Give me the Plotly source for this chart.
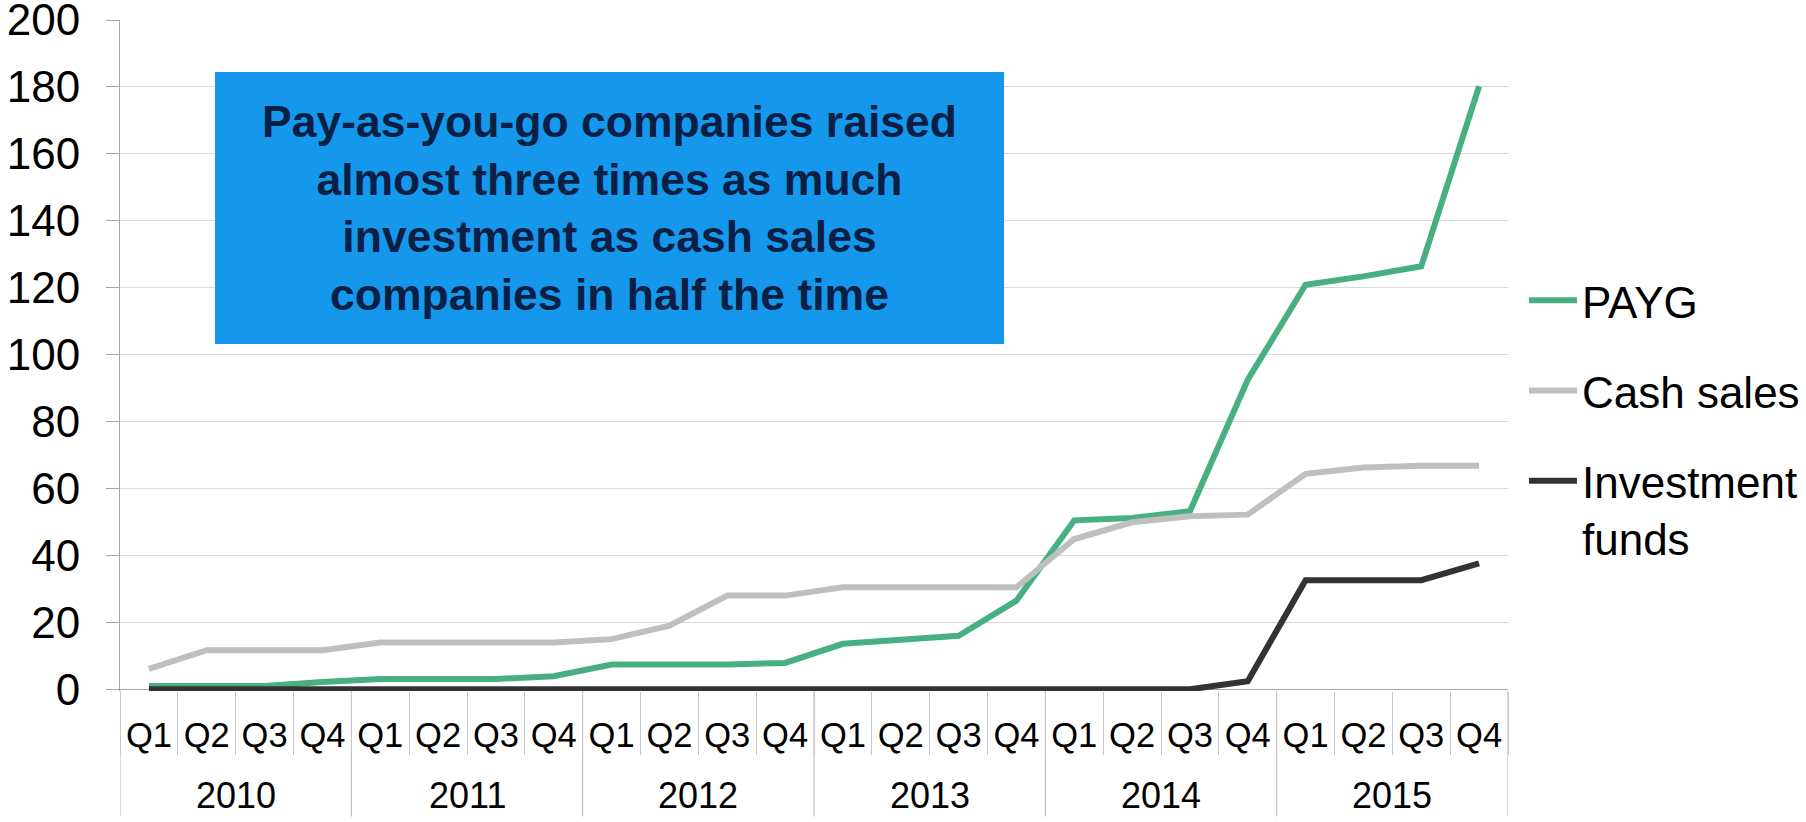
import plotly.graph_objects as go

# Quarterly cumulative investment raised (USD millions)
YEARS = ["2010", "2011", "2012", "2013", "2014", "2015"]
QUARTERS = ["Q1", "Q2", "Q3", "Q4"]

PAYG = [1.0, 1.0, 1.0, 2.2, 3.1, 3.1, 3.1, 3.9,
        7.4, 7.4, 7.4, 7.9, 13.6, 14.8, 16.0, 26.5,
        50.5, 51.2, 53.2, 92.5, 120.9, 123.4, 126.4, 180.2]
CASH_SALES = [6.1, 11.7, 11.7, 11.7, 14.0, 14.0, 14.0, 14.0,
              15.0, 19.0, 28.0, 28.0, 30.5, 30.5, 30.5, 30.5,
              44.9, 49.9, 51.7, 52.2, 64.4, 66.3, 66.8, 66.8]
INVESTMENT_FUNDS = [0, 0, 0, 0, 0, 0, 0, 0,
                    0, 0, 0, 0, 0, 0, 0, 0,
                    0, 0, 0, 2.4, 32.6, 32.6, 32.6, 37.6]

Y_TICKS = [0, 20, 40, 60, 80, 100, 120, 140, 160, 180, 200]

SERIES = [
    ("PAYG", PAYG, "#48B080"),
    ("Cash sales", CASH_SALES, "#BFBFBF"),
    ("Investment<br>funds", INVESTMENT_FUNDS, "#333333"),
]

# one category per quarter, labelled by quarter; years are grouped underneath
x_keys = [f"{y} {q}" for y in YEARS for q in QUARTERS]
x_text = [q for _ in YEARS for q in QUARTERS]
n_q = len(QUARTERS)

FONT = "Arial, Liberation Sans, sans-serif"
AXIS_GREY = "#A6A6A6"
DIVIDER_GREY = "#B4B4B4"

fig = go.Figure()
for i, (name, values, color) in enumerate(SERIES):
    fig.add_trace(go.Scatter(
        x=x_keys, y=values, name=name, mode="lines",
        line=dict(color=color, width=6),
        legendgroup=f"g{i}",
    ))

# year labels centred under their four quarters
for i, year in enumerate(YEARS):
    fig.add_annotation(
        text=year, xref="x", yref="paper",
        x=i * n_q + (n_q - 1) / 2, y=-0.1559,
        xanchor="center", yanchor="middle", showarrow=False,
        font=dict(family=FONT, size=36, color="black"),
    )

# year dividers running through both label rows
for i in range(len(YEARS) + 1):
    fig.add_shape(
        type="line", xref="x", yref="paper",
        x0=i * n_q - 0.5, x1=i * n_q - 0.5, y0=0, y1=-0.187,
        line=dict(color=DIVIDER_GREY, width=1), layer="below",
    )

fig.add_annotation(
    text=("Pay-as-you-go companies raised<br>almost three times as much<br>"
          "investment as cash sales<br>companies in half the time"),
    xref="paper", yref="paper", x=0.3528, y=0.7203,
    xanchor="center", yanchor="middle",
    width=789, height=272, borderpad=0, borderwidth=0,
    bgcolor="#1597EC", showarrow=False, align="center",
    font=dict(family=FONT, size=44.5, color="#0B1F45", weight="bold"),
)

fig.update_layout(
    width=1806, height=822,
    margin=dict(l=119.5, r=297.5, t=20.3, b=130.6, autoexpand=False),
    plot_bgcolor="white", paper_bgcolor="white",
    font=dict(family=FONT, color="black"),
    showlegend=True,
    legend=dict(
        x=1.0115, xanchor="left", y=0.6345, yanchor="top",
        font=dict(size=44, color="black"),
        itemwidth=48, valign="top", traceorder="grouped",
        tracegroupgap=30, bgcolor="rgba(0,0,0,0)",
    ),
    xaxis=dict(
        type="category", range=[-0.5, len(x_keys) - 0.5],
        tickmode="array", tickvals=x_keys, ticktext=x_text,
        tickson="boundaries", ticks="outside", ticklen=63,
        tickcolor="#C8C8C8", tickwidth=1,
        tickfont=dict(family=FONT, size=34.5, color="black"),
        ticklabelstandoff=20,
        showgrid=False, showline=False, zeroline=False,
        automargin=False,
    ),
    yaxis=dict(
        range=[-0.5, 200], tickvals=Y_TICKS,
        showgrid=True, gridcolor="#D9D9D9", gridwidth=1,
        zeroline=True, zerolinecolor=AXIS_GREY, zerolinewidth=1,
        showline=True, linecolor=AXIS_GREY, linewidth=1,
        ticks="outside", ticklen=13, tickcolor=AXIS_GREY,
        tickfont=dict(family=FONT, size=44, color="black"),
        ticklabelstandoff=17, ticklabeloverflow="allow",
        automargin=False,
    ),
)

fig.write_html("out.html")
